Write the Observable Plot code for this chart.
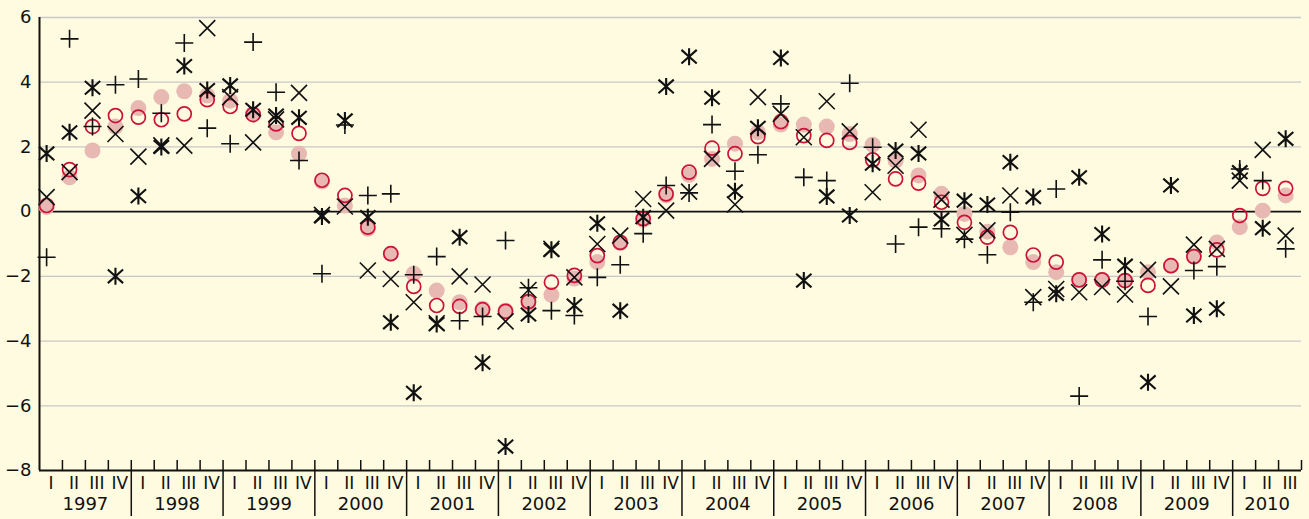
<!DOCTYPE html>
<html><head><meta charset="utf-8">
<script src="https://cdn.jsdelivr.net/npm/d3@7"></script>
<script src="https://cdn.jsdelivr.net/npm/@observablehq/plot@0.6"></script>
<style>
html,body{margin:0;padding:0;background:#fefbe0;}
</style></head><body><div id="chart"></div>
<script>
const years = [1997,1998,1999,2000,2001,2002,2003,2004,2005,2006,2007,2008,2009,2010];
const quarterLabels = ["I","II","III","IV"];
const yTicks = [-8,-6,-4,-2,0,2,4,6];

// filled pink circles
const seriesFilled = [0.14,1.06,1.89,2.63, 3.20,3.54,3.72,3.59, 3.43,3.02,2.45,1.79, 0.93,0.19,-0.53,-1.30,
  -1.92,-2.44,-2.80,-3.00, -3.06,-2.82,-2.57,-2.07, -1.56,-0.97,-0.25,0.50, 1.14,1.63,2.10,2.45,
  2.69,2.69,2.63,2.40, 2.07,1.58,1.12,0.55, -0.07,-0.62,-1.10,-1.56, -1.87,-2.11,-2.11,-2.13,
  -1.87,-1.67,-1.38,-0.95, -0.48,0.03,0.50];
// open red circles
const seriesOpen = [0.19,1.30,2.63,2.97, 2.92,2.84,3.02,3.46, 3.25,3.00,2.71,2.42, 0.97,0.50,-0.48,-1.30,
  -2.31,-2.90,-2.93,-3.03, -3.08,-2.78,-2.18,-1.97, -1.36,-0.95,-0.22,0.55, 1.22,1.96,1.79,2.32,
  2.78,2.35,2.20,2.14, 1.60,1.01,0.88,0.29, -0.33,-0.79,-0.64,-1.34, -1.56,-2.11,-2.11,-2.13,
  -2.28,-1.67,-1.39,-1.18, -0.12,0.72,0.72];
// plus signs
const seriesPlus = [-1.41,5.34,2.63,3.92, 4.10,3.04,5.21,2.58, 2.10,5.24,3.69,1.58, -1.92,2.68,0.50,0.55,
  -1.95,-1.39,-3.37,-3.24, -0.89,-2.35,-3.06,-3.21, -2.03,-1.64,-0.68,0.81, 0.58,2.69,1.25,1.76,
  3.33,1.06,0.96,3.97, 1.99,-1.00,-0.48,-0.53, -0.85,-1.33,-0.02,-2.80, 0.70,-5.70,-1.49,-2.15,
  -3.24,null,-1.82,-1.70, 1.32,0.96,-1.15];
// times signs
const seriesTimes = [0.45,1.22,3.12,2.40, 1.70,2.05,2.04,5.67, 3.54,2.14,2.85,3.67, -0.10,0.16,-1.82,-2.08,
  -2.80,-3.45,-2.00,-2.25, -3.39,-2.42,-1.15,-2.03, -1.00,-0.74,0.39,0.03, 0.62,1.63,0.22,3.54,
  3.02,2.30,3.41,2.48, 0.60,1.42,2.53,0.37, -0.72,-0.58,0.50,-2.64, -2.39,-2.49,-2.33,-2.56,
  -1.80,-2.31,-1.02,-1.15, 0.96,1.91,-0.74];
// asterisks
const seriesAsterisk = [1.80,2.45,3.83,-2.00, 0.48,2.00,4.50,3.76, 3.90,3.15,2.97,2.90, -0.15,2.82,-0.17,-3.42,
  -5.60,-3.47,-0.79,-4.67, -7.26,-3.18,-1.18,-2.90, -0.36,-3.06,-0.17,3.87, 4.79,3.52,0.63,2.59,
  4.75,-2.13,0.47,-0.12, 1.48,1.89,1.80,-0.24, 0.34,0.22,1.53,0.45, -2.54,1.06,-0.69,-1.67,
  -5.27,0.81,-3.21,-3.00, 1.22,-0.51,2.25];

const n = seriesFilled.length;
const quarters = [];
years.forEach((yr, yi) => quarterLabels.forEach((q, qi) => {
  const i = yi * 4 + qi;
  if (i < n) quarters.push({i, year: yr, q});
}));
const yearRows = years.map((yr, yi) => {
  const start = yi * 4, end = Math.min(start + 4, n);
  return {year: yr, mid: (start + end) / 2};
});
const boundaries = d3.range(1, n + 1);
const yearBounds = boundaries.filter(b => b % 4 === 0 && b < n);
const quarterBounds = boundaries.filter(b => !(b % 4 === 0 && b < n));

const pointOffset = 0.31;
const plusSym = {draw(ctx, size){ const r = Math.sqrt(size/Math.PI);
  ctx.moveTo(-r,0); ctx.lineTo(r,0); ctx.moveTo(0,-r); ctx.lineTo(0,r);}};
const timesSym = {draw(ctx, size){ const r = Math.sqrt(size/Math.PI);
  ctx.moveTo(-r,-r); ctx.lineTo(r,r); ctx.moveTo(-r,r); ctx.lineTo(r,-r);}};
const asteriskSym = {draw(ctx, size){ const r = Math.sqrt(size/Math.PI);
  ctx.moveTo(0,-r); ctx.lineTo(0,r);
  ctx.moveTo(-0.9*r,-0.8*r); ctx.lineTo(0.9*r,0.8*r);
  ctx.moveTo(-0.9*r,0.8*r); ctx.lineTo(0.9*r,-0.8*r);}};

const px = d => d.i + pointOffset;
const valid = arr => quarters.filter(d => arr[d.i] != null);

const chart = Plot.plot({
  width: 1309, height: 519,
  marginLeft: 39, marginRight: 8, marginTop: 17, marginBottom: 49,
  style: {fontFamily: "DejaVu Sans", background: "#fefbe0", color: "#111"},
  x: {domain: [0, n], range: [39, 1301]},
  y: {domain: [-8, 6]},
  marks: [
    Plot.ruleY(yTicks.filter(v => v !== 0 && v !== -8), {stroke: "#c8c8c8", strokeWidth: 1.3}),
    Plot.axisY({ticks: yTicks, tickSize: 0, tickPadding: 8, fontSize: 18, label: null}),
    Plot.axisX({ticks: quarterBounds, tickSize: 10, dy: -10, tickFormat: () => "", label: null, strokeWidth: 1.5}),
    Plot.axisX({ticks: yearBounds, tickSize: 56, dy: -10, tickFormat: () => "", label: null, strokeWidth: 1.5}),
    Plot.text(quarters, {x: d => d.i + 0.5, text: d => d.q, frameAnchor: "bottom", dy: 18, fontSize: 17, fill: "#111"}),
    Plot.text(yearRows, {x: "mid", text: d => String(d.year), frameAnchor: "bottom", dy: 39, fontSize: 18, fill: "#111"}),
    Plot.ruleY([0], {stroke: "#111", strokeWidth: 1.8}),
    Plot.ruleY([-8], {stroke: "#111", strokeWidth: 2}),
    Plot.ruleX([0], {stroke: "#111", strokeWidth: 2}),
    Plot.dot(valid(seriesFilled), {x: px, y: d => seriesFilled[d.i], r: 8, fill: "#e8b9b3", stroke: "none"}),
    Plot.dot(valid(seriesOpen), {x: px, y: d => seriesOpen[d.i], r: 7, fill: "none", stroke: "#cc1236", strokeWidth: 1.7}),
    Plot.dot(valid(seriesPlus), {x: px, y: d => seriesPlus[d.i], r: 9, symbol: plusSym, fill: "none", stroke: "#111", strokeWidth: 1.6}),
    Plot.dot(valid(seriesTimes), {x: px, y: d => seriesTimes[d.i], r: 8, symbol: timesSym, fill: "none", stroke: "#111", strokeWidth: 1.6}),
    Plot.dot(valid(seriesAsterisk), {x: px, y: d => seriesAsterisk[d.i], r: 8.5, symbol: asteriskSym, fill: "none", stroke: "#111", strokeWidth: 2.1})
  ]
});
document.getElementById("chart").append(chart);
</script></body></html>
